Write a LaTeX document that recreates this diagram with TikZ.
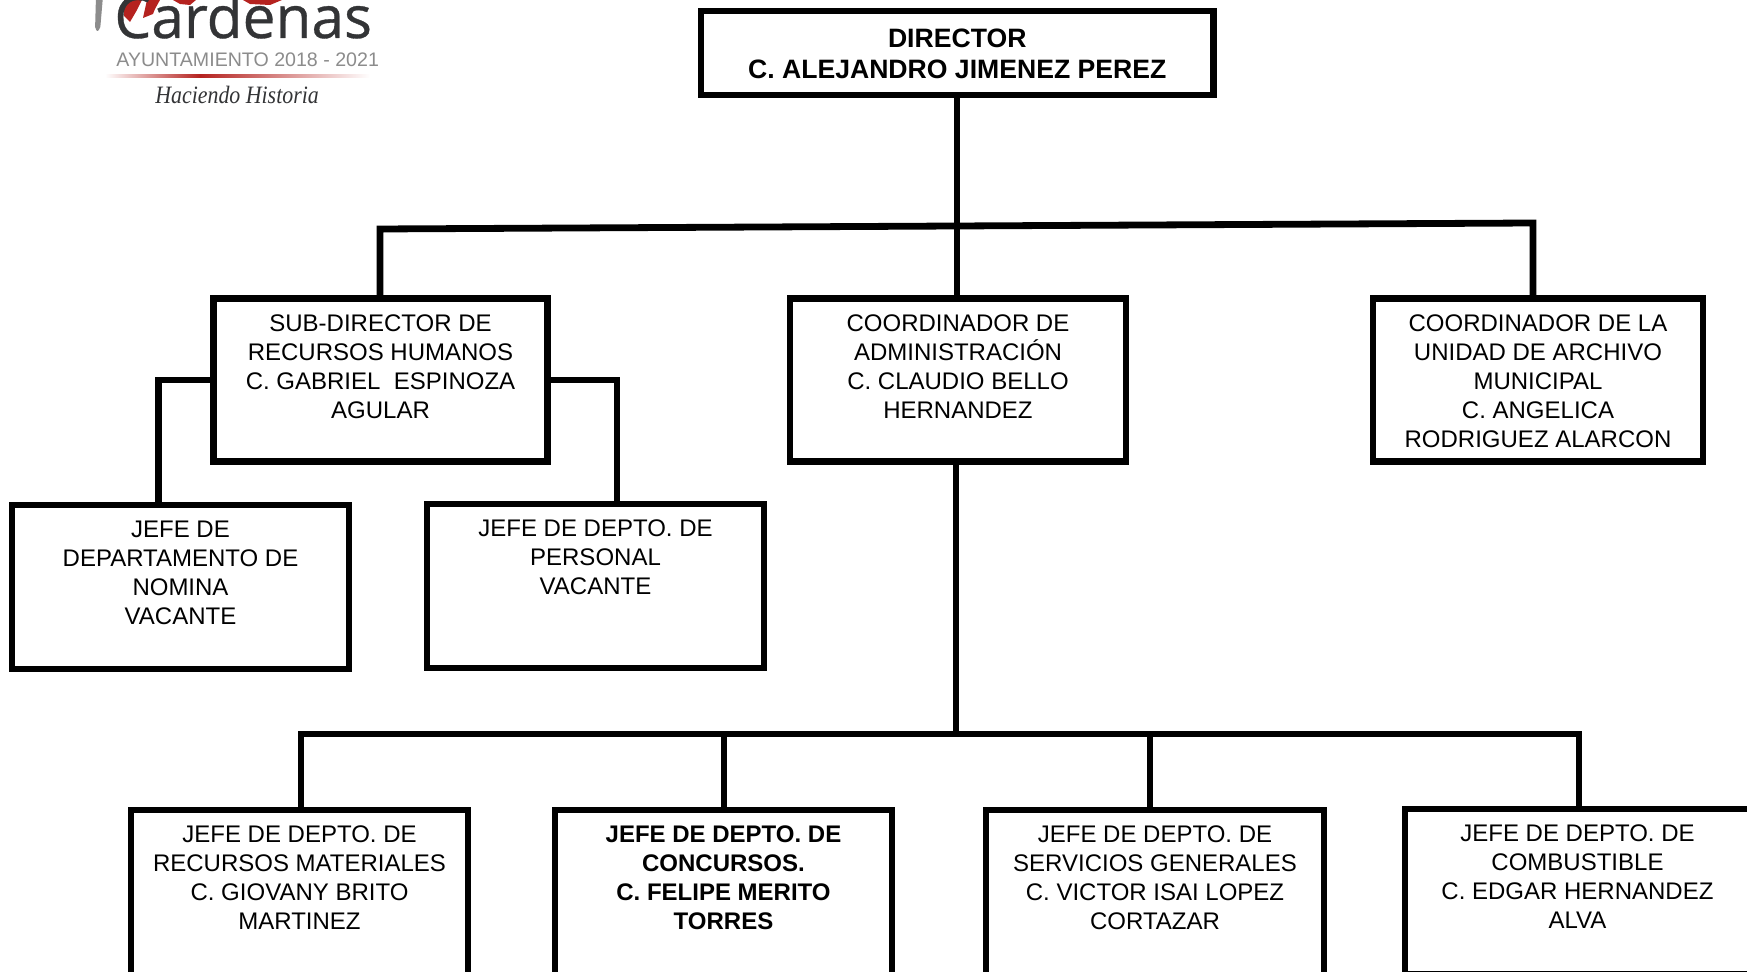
\documentclass[tikz,border=0pt]{standalone}
\usepackage{fontspec}
\setmainfont{Liberation Sans}
\newfontfamily\logofont{Open Sans}[FakeBold=0.6]
\newfontfamily\handfont{Liberation Serif}
\definecolor{logodark}{HTML}{333436}
\definecolor{logored}{HTML}{B5221F}
\definecolor{logogray}{HTML}{8C8C8C}
\tikzset{
  orgbox/.style={draw=black,line width=3.4pt,fill=white,inner sep=0pt,outer sep=0pt,align=center},
  orgline/.style={draw=black,line width=3.4pt,line cap=rect,line join=miter},
}
% name, left, top, right, bottom (outer px, line centres), gap, text
\newlength\bw \newlength\bh \newlength\bg
\newcommand{\orgnode}[7]{%
  \pgfmathsetlength\bw{(#4-#2)*0.5pt}%
  \pgfmathsetlength\bh{(#5-#3)*0.5pt}%
  \pgfmathsetlength\bg{#6*0.5pt}%
  \node[orgbox] (#1) at ({(#2+#4)/2},{(#3+#5)/2})
    {\parbox[c][\bh][t]{\bw}{\vspace*{\bg}\centering\fontsize{12}{14.5}\selectfont #7}};%
}
\begin{document}
\begin{tikzpicture}[x=0.5pt,y=-0.5pt]
\useasboundingbox (0,0) rectangle (1747,972);
\fill[white] (0,0) rectangle (1747,972);
% logo
\fill[logogray,rounded corners=2pt] (96,-4) -- (103,-4) -- (100,31) -- (95,31) -- cycle;
\fill[logored] (124,0) -- (142,0) -- (137,10) -- (130,22) -- (124,16) -- cycle;
\fill[logored] (147,0) -- (160,0) -- (155,9) -- (153,14) -- (143,18) -- cycle;
\fill[logored] (173,0) -- (196,0) -- (190,5) -- (180,4) -- cycle;
\fill[logored] (243,0) -- (282,0) -- (270,5) -- (250,4) -- cycle;
\node[inner sep=0pt,anchor=base west,text=logodark,font=\logofont\fontsize{29.3}{30}\selectfont] (logoname) at (114,38) {Cardenas};
\node[inner sep=0pt,anchor=base west,text=logogray,font=\fontsize{9.8}{12}\selectfont] (logoyears) at (116,67) {AYUNTAMIENTO 2018 - 2021};
\shade[left color=white,right color=logored] (105,74.5) rectangle (200,77.5);
\shade[left color=logored,right color=white] (200,74.5) rectangle (370,77.5);
\node[inner sep=0pt,anchor=base west,text=logodark,xscale=0.875,font=\handfont\itshape\fontsize{12.5}{14}\selectfont] (logomotto) at (155,104) {Haciendo Historia};
% boxes
\orgnode{dir}{701}{11}{1213.5}{95}{17.5}{\fontsize{13.3}{15.6}\selectfont\textbf{DIRECTOR}\\\textbf{C. ALEJANDRO JIMENEZ PEREZ}}
\orgnode{sub}{213.5}{298.5}{547.5}{461.5}{15.9}{SUB-DIRECTOR DE\\RECURSOS HUMANOS\\C. GABRIEL\ \ ESPINOZA\\AGULAR}
\orgnode{adm}{790}{298.5}{1126}{461.5}{15.9}{COORDINADOR DE\\ADMINISTRACIÓN\\C. CLAUDIO BELLO\\HERNANDEZ}
\orgnode{arc}{1373}{298.5}{1703}{461.5}{15.9}{COORDINADOR DE LA\\UNIDAD DE ARCHIVO\\MUNICIPAL\\C. ANGELICA\\RODRIGUEZ ALARCON}
\orgnode{nom}{12}{505}{349}{669}{15.9}{JEFE DE\\DEPARTAMENTO DE\\NOMINA\\VACANTE}
\orgnode{per}{427}{504}{764}{668}{15.9}{JEFE DE DEPTO. DE\\PERSONAL\\VACANTE}
\orgnode{mat}{131}{810}{468}{980}{15.9}{JEFE DE DEPTO. DE\\RECURSOS MATERIALES\\C. GIOVANY BRITO\\MARTINEZ}
\orgnode{con}{555}{810}{892}{980}{15.9}{\textbf{JEFE DE DEPTO. DE}\\\textbf{CONCURSOS.}\\\textbf{C. FELIPE MERITO}\\\textbf{TORRES}}
\orgnode{ser}{986}{810}{1324}{980}{15.9}{JEFE DE DEPTO. DE\\SERVICIOS GENERALES\\C. VICTOR ISAI LOPEZ\\CORTAZAR}
\orgnode{com}{1405}{809}{1750}{974}{15.9}{JEFE DE DEPTO. DE\\COMBUSTIBLE\\C. EDGAR HERNANDEZ\\ALVA}
% junctions
\coordinate (topmid) at (957,225);
\coordinate (topleft) at (380,229);
\coordinate (topright) at (1533,223);
\coordinate (subl) at (158.5,380);
\coordinate (subr) at (617,380);
\coordinate (botmid) at (956,734);
\coordinate (botA) at (301,734);
\coordinate (botB) at (724,734);
\coordinate (botC) at (1150,734);
\coordinate (botD) at (1579,734);
% connectors
\draw[orgline] (dir.south -| topmid) -- (topmid);
\draw[orgline] (sub.north -| topleft) -- (topleft) -- (topright) -- (arc.north -| topright);
\draw[orgline] (topmid) -- (adm.north -| topmid);
\draw[orgline] (sub.west |- subl) -- (subl) -- (nom.north -| subl);
\draw[orgline] (sub.east |- subr) -- (subr) -- (per.north -| subr);
\draw[orgline] (adm.south -| botmid) -- (botmid);
\draw[orgline] (mat.north -| botA) -- (botA) -- (botD) -- (com.north -| botD);
\draw[orgline] (botB) -- (con.north -| botB);
\draw[orgline] (botC) -- (ser.north -| botC);
\end{tikzpicture}
\end{document}
